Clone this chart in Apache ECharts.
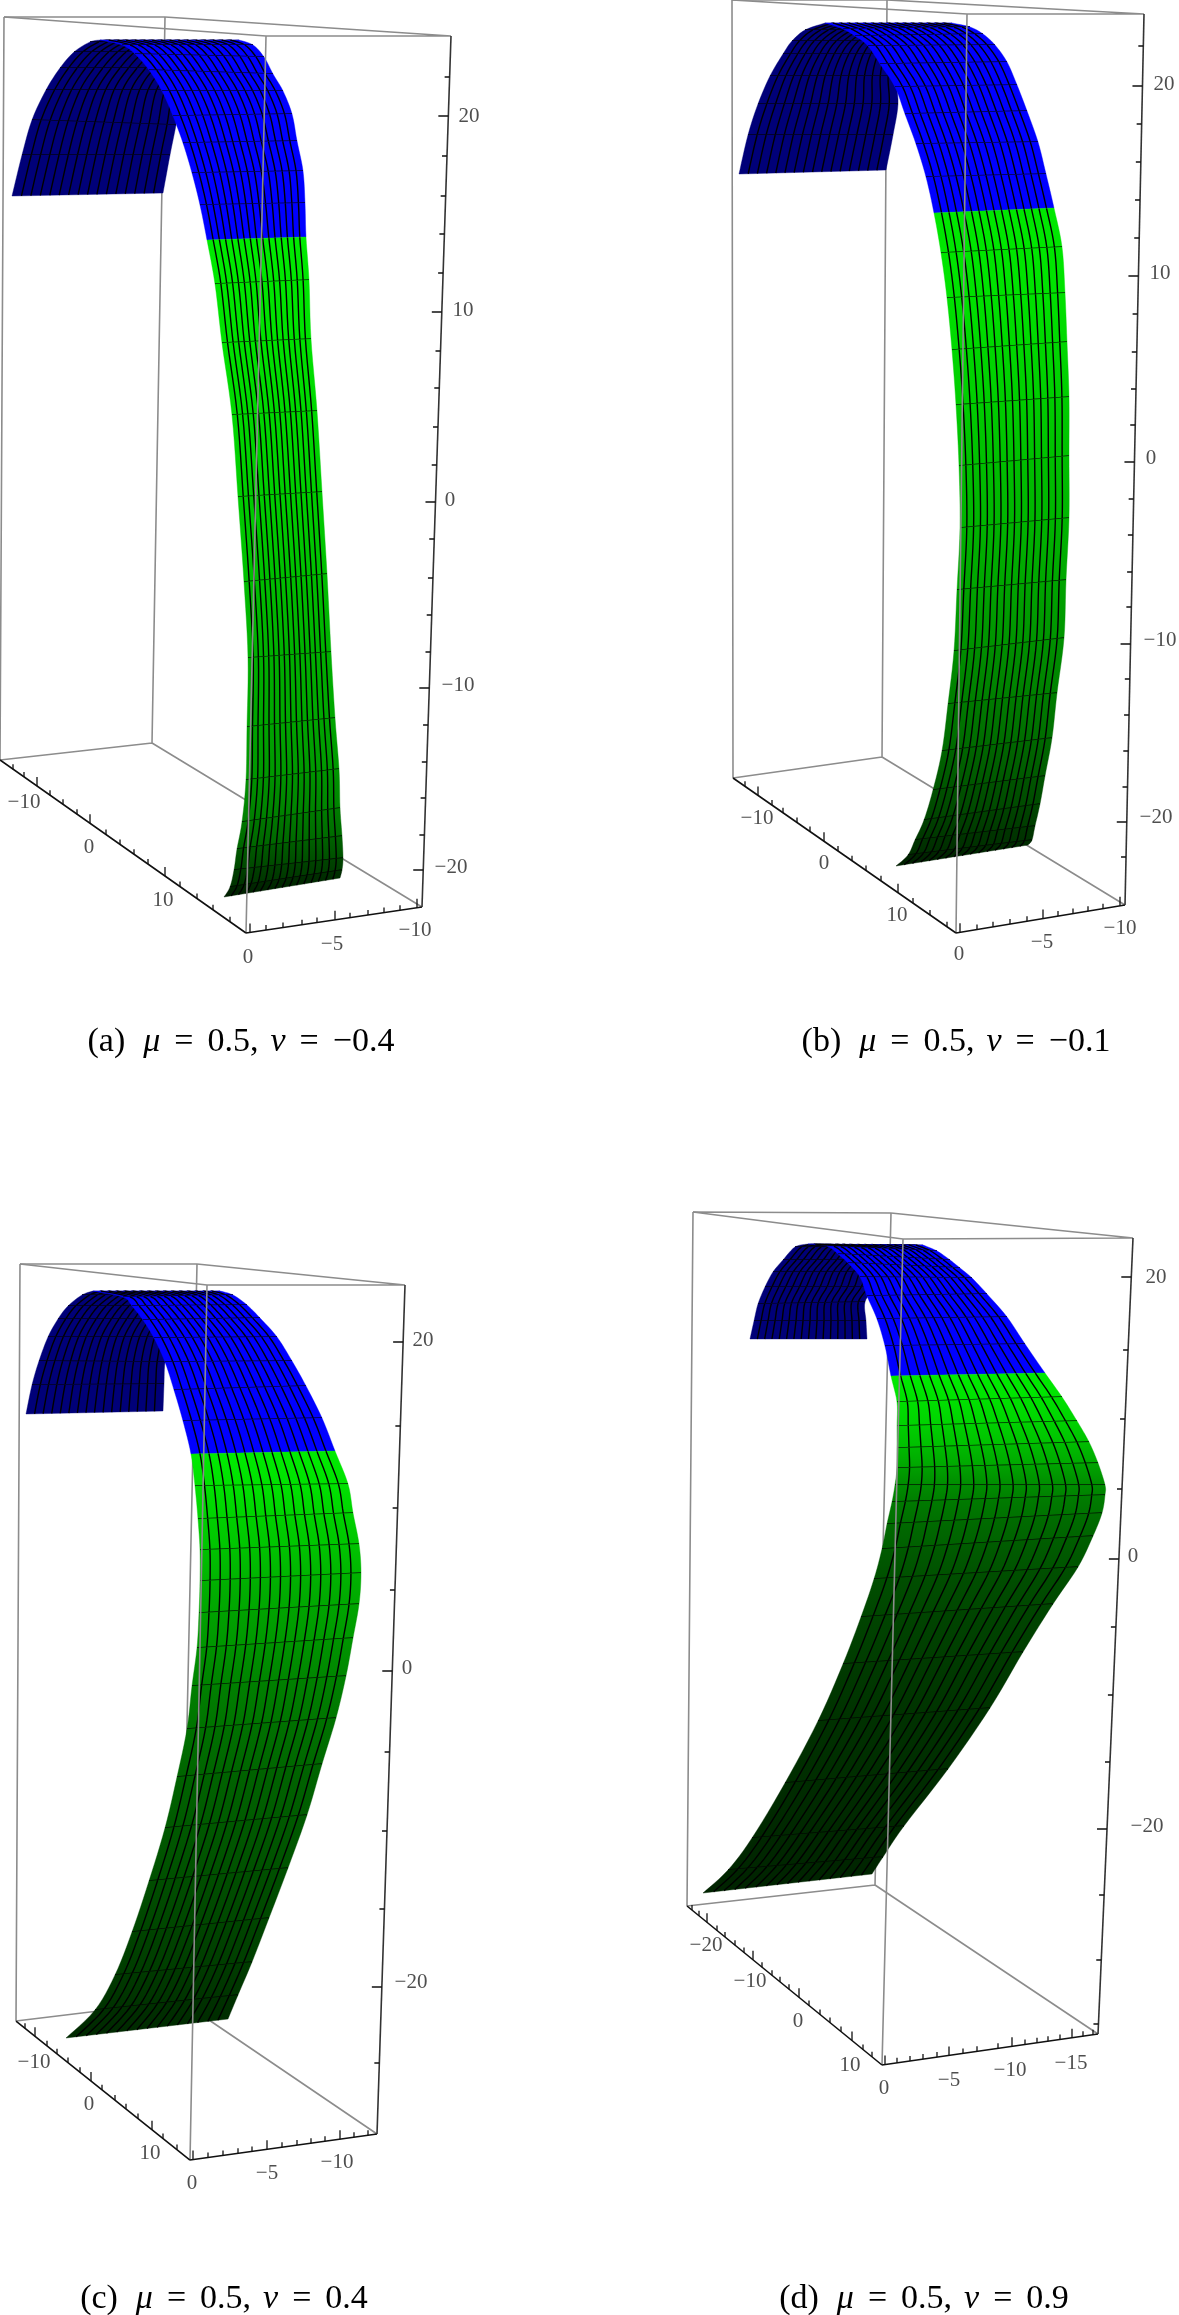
<!DOCTYPE html>
<html><head><meta charset="utf-8">
<style>html,body{margin:0;padding:0;background:#fff}#c{width:1179px;height:2315px}</style>
<script src="https://cdn.jsdelivr.net/npm/echarts@6/dist/echarts.min.js"></script></head>
<body><div id="c"></div>
<script>
// ---------- values ----------
const captions = [['(a)','0.5','−0.4'],['(b)','0.5','−0.1'],['(c)','0.5','0.4'],['(d)','0.5','0.9']];
// box corners: backTopLeft, backTop, rightTop, frontTop, bottomLeft, bottomBack, bottomRight, bottomFront
const boxA = [[4,17],[165,17],[451,36],[266,36],[0,760],[152,743],[422,907],[246,933]];
const boxB = [[732,0],[887,0],[1144,14],[967,14],[733,778],[882,757],[1125,905],[956,933]];
const boxC = [[20,1264],[197,1264],[405,1285],[207,1285],[16,2021],[181,2001],[377,2134],[190,2160]];
const boxD = [[693,1212],[891,1213],[1133,1238],[903,1239],[687,1906],[875,1885],[1098,2034],[882,2065]];
// strip rows [leftX,leftY,rightX,rightY], top to bottom
const backA = [[100,40,239,40],[90,42,230,42],[74,52,213,52],[60,68,197,68],[46,90,182,90],[32,120,176,125],[22,155,170,155],[12,196,163,193]];
const frontA = [[100,40,239,40],[122,45,253,45],[135,54,264,57],[149,70,273,74],[162,91,283,91],[173,116,292,114],[183,143,297,141],[192,173,303,171],[200,205,305,203],[207,240,306,237],[215,284,309,280],[222,343,311,339],[232,415,317,411],[238,497,322,492],[244,582,327,574],[248,658,331,652],[247,727,335,718],[246,780,339,769],[242,822,340,808],[237,849,342,836],[234,870,343,858],[230,887,342,870],[224,897,340,878]];
const shadeA = [235,230,225,215,205,190,175,165,150,125,100,70,50,30];
const backB = [[825,23,952,23],[805,30,930,30],[792,41,910,41],[783,54,900,54],[770,76,896,76],[758,104,898,104],[748,135,893,135],[739,174,886,170]];
const frontB = [[825,23,952,23],[843,29,970,27],[855,36,983,34],[868,46,995,45],[880,64,1007,62],[895,87,1017,85],[905,114,1027,111],[916,144,1038,142],[926,177,1046,174],[934,213,1054,208],[941,253,1062,247],[947,298,1065,293],[952,350,1067,342],[956,405,1069,397],[959,466,1069,456],[960,528,1069,518],[957,590,1066,580],[954,651,1064,638],[948,704,1057,693],[942,751,1052,738],[933,790,1045,776],[924,820,1040,804],[915,840,1035,826],[908,855,1032,840],[896,866,1028,845]];
const shadeB = [230,230,225,215,205,190,180,165,145,125,105,85,70,55,45,30];
const backC = [[93,1291,220,1291],[82,1295,205,1295],[68,1306,190,1306],[58,1319,180,1319],[48,1337,170,1337],[39,1361,165,1362],[32,1385,164,1384],[26,1414,163,1411]];
const frontC = [[93,1291,220,1291],[123,1297,233,1295],[132,1306,247,1305],[143,1320,260,1318],[154,1338,277,1337],[165,1362,292,1361],[174,1390,306,1386],[183,1421,322,1418],[191,1454,335,1451],[195,1486,348,1484],[198,1519,353,1513],[200,1550,359,1544],[200,1581,361,1573],[199,1613,359,1604],[197,1648,353,1638],[192,1686,346,1676],[187,1729,336,1718],[177,1777,322,1764],[165,1828,307,1815],[149,1881,288,1868],[132,1932,269,1918],[115,1975,252,1962],[95,2010,238,1995],[66,2038,228,2019]];
const shadeC = [235,225,210,195,180,165,150,130,115,100,90,80,70,60,50,40];
const backD = [[808,1244,923,1245],[795,1247,900,1247],[783,1260,890,1260],[773,1272,880,1272],[765,1287,875,1287],[758,1304,865,1302],[754,1321,866,1321],[750,1339,867,1339]];
const frontD = [[808,1244,923,1245],[827,1246,937,1251],[838,1254,950,1260],[848,1263,960,1268],[860,1277,972,1278],[867,1296,987,1294],[877,1319,1007,1317],[885,1346,1025,1344],[891,1376,1045,1373],[897,1402,1062,1397],[897,1426,1077,1421],[897,1448,1089,1442],[897,1468,1098,1463],[895,1485,1105,1485],[892,1502,1105,1495],[887,1524,1102,1513],[882,1549,1093,1536],[874,1579,1078,1567],[861,1617,1053,1604],[843,1664,1023,1652],[818,1721,990,1708],[785,1783,948,1769],[752,1838,904,1826],[728,1870,883,1857],[703,1893,872,1874]];
const shadeD = [235,225,210,190,165,140,125,110,95,80,70,60,50,45,40,38,35];
// number of front rows in blue before the green part starts
const blueRows = [9,9,8,8];
// vertical axis ticks (picture heights) and the labelled ones
const zTicksA = [77,116,156,196,234,273,312,351,388,427,465,502,539,578,615,652,688,725,762,798,835,870];
const zMajorA = [116,312,502,688,870];
const zTicksB = [46,86,124,162,200,238,276,314,352,389,425,462,499,535,572,607,644,679,715,751,787,822,857];
const zMajorB = [86,276,462,644,822];
const zTicksC = [1342,1426,1508,1590,1671,1752,1831,1909,1987,2063];
const zMajorC = [1342,1671,1987];
const zTicksD = [1277,1350,1419,1489,1559,1627,1695,1762,1829,1895,1960,2024];
const zMajorD = [1277,1559,1829];
// floor axis ticks (picture x positions)
const leftTicksA = [13,24,37,50,63,77,90,106,120,134,148,165,180,197,213,230];
const leftMajorA = [37,90,165];
const rightTicksA = [250,266,283,302,317,335,350,368,384,400,417];
const rightMajorA = [250,335,417];
const leftTicksB = [745,758,772,783,797,810,824,838,852,866,881,898,913,930,947];
const leftMajorB = [758,824,898];
const rightTicksB = [960,977,993,1010,1027,1043,1058,1073,1088,1103,1120];
const rightMajorB = [960,1043,1120];
const leftTicksC = [25,35,47,57,68,80,91,102,115,126,138,152,163,177];
const leftMajorC = [35,91,152];
const rightTicksC = [193,208,223,238,252,267,282,297,311,325,340,354,368];
const rightMajorC = [193,267,340];
const leftTicksD = [692,699,707,717,725,735,744,753,762,772,780,789,799,809,820,830,841,852,863,872];
const leftMajorD = [707,753,799,852];
const rightTicksD = [885,897,910,923,937,949,963,977,998,1012,1025,1037,1048,1060,1072,1083,1093];
const rightMajorD = [885,949,1012,1072];
// tick label texts with the picture point they are centred on
const labelsA = [['20',469,116],['10',463,310],['0',450,500],['−10',458,685],['−20',451,867],['−10',24,802],['0',89,847],['10',163,900],['0',248,957],['−5',332,944],['−10',415,930]];
const labelsB = [['20',1164,84],['10',1160,273],['0',1151,458],['−10',1160,640],['−20',1156,817],['−10',757,818],['0',824,863],['10',897,915],['0',959,954],['−5',1042,942],['−10',1120,928]];
const labelsC = [['20',423,1340],['0',407,1668],['−20',411,1982],['−10',34,2062],['0',89,2104],['10',150,2153],['0',192,2183],['−5',267,2173],['−10',337,2162]];
const labelsD = [['20',1156,1277],['0',1133,1556],['−20',1147,1826],['−20',706,1945],['−10',750,1981],['0',798,2021],['10',850,2065],['0',884,2088],['−5',949,2080],['−10',1010,2070],['−15',1071,2063]];

// ---------- assembly ----------
const NAVY='#000078', BLUE='#0000ff', CELLS=16, SUB=6;
const panels=[
 {box:boxA,back:backA,front:frontA,shade:shadeA,zt:zTicksA,zm:zMajorA,lt:leftTicksA,lm:leftMajorA,rt:rightTicksA,rm:rightMajorA,labels:labelsA,grid:{left:0,top:0,width:590,height:1140},xr:[0,590],yr:[0,1140],cx:236,cy:1020},
 {box:boxB,back:backB,front:frontB,shade:shadeB,zt:zTicksB,zm:zMajorB,lt:leftTicksB,lm:leftMajorB,rt:rightTicksB,rm:rightMajorB,labels:labelsB,grid:{left:590,top:0,width:589,height:1140},xr:[590,1179],yr:[0,1140],cx:951,cy:1020},
 {box:boxC,back:backC,front:frontC,shade:shadeC,zt:zTicksC,zm:zMajorC,lt:leftTicksC,lm:leftMajorC,rt:rightTicksC,rm:rightMajorC,labels:labelsC,grid:{left:0,top:1140,width:590,height:1175},xr:[0,590],yr:[1140,2315],cx:219,cy:2277},
 {box:boxD,back:backD,front:frontD,shade:shadeD,zt:zTicksD,zm:zMajorD,lt:leftTicksD,lm:leftMajorD,rt:rightTicksD,rm:rightMajorD,labels:labelsD,grid:{left:590,top:1140,width:589,height:1175},xr:[590,1179],yr:[1140,2315],cx:919,cy:2277}
];
const lerp=(a,b,t)=>a+(b-a)*t;
const segs=(list)=>{const o=[];list.forEach(s=>{o.push(s[0],s[1],['-','-']);});return o;};
function lineSeries(i,data,color,width,z){
  return {type:'line',xAxisIndex:i,yAxisIndex:i,data:data,symbol:'none',silent:true,clip:false,z:z,
    connectNulls:false,lineStyle:{color:color,width:width},animation:false};
}
// smooth edge drawing between read rows (like a line series' smooth option)
function cr(p0,p1,p2,p3,t){
  const t2=t*t,t3=t2*t;
  return 0.5*(2*p1+(p2-p0)*t+(2*p0-5*p1+4*p2-p3)*t2+(3*p1-p0-3*p2+p3)*t3);
}
function stripSeries(i,rows,colorOf,noLineRow,z){
  const n=rows.length;
  function at(k,s,f){ // point of band k at step s (0..1), across-fraction f
    const a=rows[Math.max(k-1,0)],b=rows[k],c=rows[k+1],d=rows[Math.min(k+2,n-1)];
    const lx=cr(a[0],b[0],c[0],d[0],s),ly=cr(a[1],b[1],c[1],d[1],s);
    const rx=cr(a[2],b[2],c[2],d[2],s),ry=cr(a[3],b[3],c[3],d[3],s);
    return [lerp(lx,rx,f),lerp(ly,ry,f)];
  }
  return {type:'custom',xAxisIndex:i,yAxisIndex:i,silent:true,clip:false,animation:false,z:z,
    data:rows.slice(0,-1).map((r,k)=>[r[0],r[1],r[2],r[3],rows[k+1][0],rows[k+1][1],rows[k+1][2],rows[k+1][3]]),
    encode:{x:[0,2,4,6],y:[1,3,5,7]},
    renderItem:function(params,api){
      const k=params.dataIndex,b=rows[k+1];
      const P=q=>api.coord(q);
      const c=colorOf(k);
      const poly=[],back=[];
      for(let s=0;s<=SUB;s++){poly.push(P(at(k,s/SUB,0)));back.push(P(at(k,s/SUB,1)));}
      const kids=[{type:'polygon',shape:{points:poly.concat(back.reverse())},
        style:{fill:{type:'linear',x:0,y:0,x2:0,y2:1,colorStops:[{offset:0,color:c[0]},{offset:1,color:c[1]}]},stroke:c[1],lineWidth:0.4}}];
      for(let m=1;m<CELLS;m++){
        const pts=[];
        for(let s=0;s<=SUB;s++) pts.push(P(at(k,s/SUB,m/CELLS)));
        kids.push({type:'polyline',shape:{points:pts},style:{stroke:'#000',lineWidth:1.4,fill:null}});
      }
      if(k+1!==noLineRow && k+1<n-1){
        const p=P([b[0],b[1]]),q=P([b[2],b[3]]);
        kids.push({type:'line',shape:{x1:p[0],y1:p[1],x2:q[0],y2:q[1]},style:{stroke:'#000',lineWidth:1.6}});
      }
      return {type:'group',children:kids};
    }};
}
const grids=[],xAxes=[],yAxes=[],series=[],titles=[];
panels.forEach((p,i)=>{
  grids.push(p.grid);
  xAxes.push({type:'value',gridIndex:i,min:p.xr[0],max:p.xr[1],show:false});
  yAxes.push({type:'value',gridIndex:i,min:p.yr[0],max:p.yr[1],inverse:true,show:false});
  const [A,B,C,D,L,K,R,F]=p.box;
  // hidden-side box lines
  series.push(lineSeries(i,segs([[A,B],[A,L],[B,K],[L,K],[K,R]]),'#8c8c8c',1.6,1));
  // surface: far strip then near strip
  series.push(stripSeries(i,p.back,()=>[NAVY,NAVY],-1,2));
  const nb=blueRows[i];
  const green=v=>'rgb(0,'+v+',0)';
  series.push(stripSeries(i,p.front,k=>{
    if(k<nb) return [BLUE,BLUE];
    return [green(p.shade[k-nb]),green(p.shade[k-nb+1])];
  },nb,3));
  // near-side box lines
  series.push(lineSeries(i,segs([[A,D],[B,C],[D,C],[D,F]]),'#8c8c8c',1.6,4));
  // axes
  series.push(lineSeries(i,segs([[L,F],[F,R]]),'#111',1.6,5));
  series.push(lineSeries(i,segs([[C,R]]),'#333',1.6,5));
  const tk=[];
  p.zt.forEach(y=>{const x=lerp(C[0],R[0],(y-C[1])/(R[1]-C[1]));tk.push([[x,y],[x-(p.zm.includes(y)?10:5),y]]);});
  p.lt.forEach(x=>{const y=lerp(L[1],F[1],(x-L[0])/(F[0]-L[0]));tk.push([[x,y],[x,y-(p.lm.includes(x)?9:5)]]);});
  p.rt.forEach(x=>{const y=lerp(F[1],R[1],(x-F[0])/(R[0]-F[0]));tk.push([[x,y],[x,y-(p.rm.includes(x)?9:5)]]);});
  series.push(lineSeries(i,segs(tk),'#111',1.3,5));
  // tick labels
  series.push({type:'scatter',xAxisIndex:i,yAxisIndex:i,silent:true,clip:false,animation:false,symbolSize:1,z:6,
    itemStyle:{color:'transparent'},
    data:p.labels.map(l=>({value:[l[1],l[2]],name:l[0]})),
    label:{show:true,position:'inside',formatter:'{b}',color:'#222',fontFamily:'Liberation Serif',fontSize:21}});
  const cap=captions[i];
  titles.push({left:p.cx,top:p.cy,textAlign:'center',
    text:'{r|'+cap[0]+'}{f|}{i|μ}{g|}{r|=}{g|}{r|'+cap[1]+',}{h|}{i|ν}{g|}{r|=}{g|}{r|'+cap[2]+'}',
    textStyle:{fontWeight:'normal',fontFamily:'Liberation Serif',rich:{
      r:{fontFamily:'Liberation Serif',fontSize:34,fontWeight:'normal',color:'#000'},
      i:{fontFamily:'Liberation Serif',fontSize:34,fontWeight:'normal',fontStyle:'italic',color:'#000'},
      f:{width:18},g:{width:14},h:{width:12}}}});
});
const chart=echarts.init(document.getElementById('c'),null,{renderer:'canvas'});
chart.setOption({backgroundColor:'#fff',animation:false,title:titles,grid:grids,xAxis:xAxes,yAxis:yAxes,series:series});
</script></body></html>
